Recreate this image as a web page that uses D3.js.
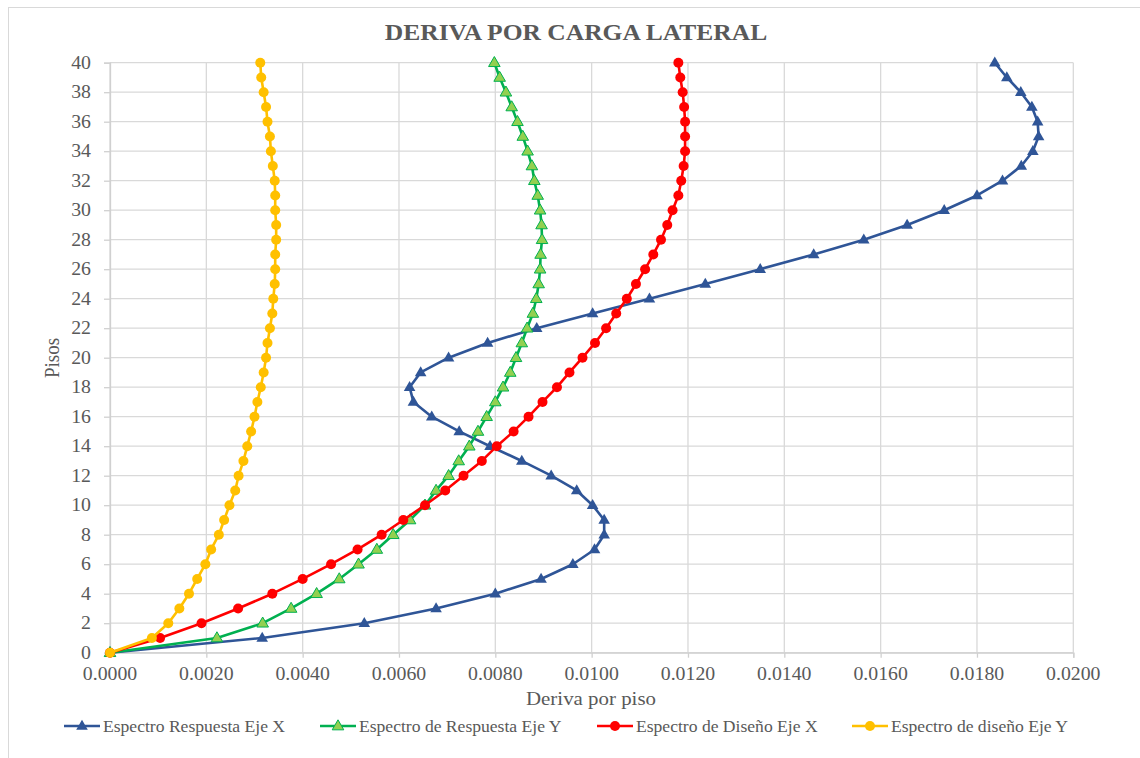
<!DOCTYPE html>
<html>
<head>
<meta charset="utf-8">
<script src="https://cdn.jsdelivr.net/npm/d3@7"></script>
<style>
  html, body { margin: 0; padding: 0; background: #ffffff; }
  svg { display: block; }
  text { font-family: "Liberation Serif", "Times New Roman", serif; fill: #595959; }
</style>
</head>
<body>
<svg id="chart" width="1140" height="758"></svg>
<script>
// Floors (pisos) 0..40
const floors = d3.range(0, 41);

// Inter-storey drift per floor for each analysis
const respuestaX = [0, 0.00316, 0.00528, 0.00677, 0.00800, 0.00895, 0.00961, 0.01006, 0.01026, 0.01026,
  0.01002, 0.00969, 0.00916, 0.00855, 0.00789, 0.00725, 0.00668, 0.00630, 0.00622, 0.00645,
  0.00703, 0.00784, 0.00886, 0.01002, 0.01120, 0.01236, 0.01350, 0.01461, 0.01565, 0.01655,
  0.01732, 0.01800, 0.01853, 0.01892, 0.01916, 0.01928, 0.01926, 0.01914, 0.01891, 0.01862, 0.01837];

const respuestaY = [0, 0.00222, 0.00317, 0.00376, 0.00429, 0.00476, 0.00516, 0.00554, 0.00588, 0.00623,
  0.00654, 0.00677, 0.00703, 0.00724, 0.00746, 0.00764, 0.00782, 0.00800, 0.00816, 0.00831,
  0.00843, 0.00855, 0.00866, 0.00878, 0.00885, 0.00890, 0.00893, 0.00894, 0.00897, 0.00896,
  0.00893, 0.00888, 0.00881, 0.00876, 0.00867, 0.00857, 0.00846, 0.00834, 0.00822, 0.00809, 0.00798];

const disenoX = [0, 0.00104, 0.00190, 0.00266, 0.00337, 0.00400, 0.00459, 0.00514, 0.00564, 0.00609,
  0.00654, 0.00696, 0.00734, 0.00772, 0.00803, 0.00838, 0.00869, 0.00898, 0.00928, 0.00954,
  0.00981, 0.01007, 0.01030, 0.01051, 0.01073, 0.01092, 0.01111, 0.01128, 0.01144, 0.01157,
  0.01168, 0.01180, 0.01186, 0.01191, 0.01194, 0.01194, 0.01194, 0.01192, 0.01189, 0.01184, 0.01180];

const disenoY = [0, 0.00087, 0.00121, 0.00144, 0.00164, 0.00181, 0.00198, 0.00210, 0.00226, 0.00237,
  0.00248, 0.00260, 0.00267, 0.00277, 0.00285, 0.00293, 0.00300, 0.00306, 0.00313, 0.00319,
  0.00324, 0.00327, 0.00332, 0.00337, 0.00339, 0.00342, 0.00343, 0.00343, 0.00345, 0.00345,
  0.00343, 0.00343, 0.00342, 0.00338, 0.00334, 0.00332, 0.00327, 0.00324, 0.00319, 0.00314, 0.00312];

const seriesNames = ["Espectro Respuesta Eje X", "Espectro de Respuesta Eje Y",
  "Espectro de Diseño Eje X", "Espectro de diseño Eje Y"];

const xTicks = d3.range(0, 11).map(i => i * 0.002);
const yTicks = d3.range(0, 21).map(i => i * 2);

const title = "DERIVA POR CARGA LATERAL";
const xTitle = "Deriva por piso";
const yTitle = "Pisos";

// ---- styling of each series ----
const styles = [
  { color: "#2f5597", marker: "tri", fill: "#2f5597", stroke: "none" },
  { color: "#00b050", marker: "tri", fill: "#92d050", stroke: "#00b050" },
  { color: "#ff0000", marker: "circ", fill: "#ff0000", stroke: "none" },
  { color: "#ffc000", marker: "circ", fill: "#ffc000", stroke: "none" }
];
const allSeries = [respuestaX, respuestaY, disenoX, disenoY];

const svg = d3.select("#chart");
const SX = 1.1; // horizontal text stretch

// chart frame
svg.append("rect").attr("x", 8.5).attr("y", 7.5).attr("width", 1140).attr("height", 760)
  .attr("fill", "#fff").attr("stroke", "#d9d9d9").attr("stroke-width", 1);

const x = d3.scaleLinear().domain([0, 0.02]).range([110, 1073.3]);
const y = d3.scaleLinear().domain([0, 40]).range([652.7, 62.7]);

function stretchedText(g, tx, ty, str, size, anchor, weight) {
  return g.append("text")
    .attr("transform", `translate(${tx},${ty}) scale(${SX},1)`)
    .attr("text-anchor", anchor)
    .style("font-size", size + "px")
    .style("font-weight", weight || "normal")
    .text(str);
}

// gridlines
const grid = svg.append("g");
grid.selectAll("line.h").data(yTicks).join("line")
  .attr("x1", x(0)).attr("x2", x(0.02))
  .attr("y1", d => y(d)).attr("y2", d => y(d))
  .attr("stroke", "#d9d9d9").attr("stroke-width", 1.3);
grid.selectAll("line.v").data(xTicks).join("line")
  .attr("x1", d => x(d)).attr("x2", d => x(d))
  .attr("y1", y(0)).attr("y2", y(40))
  .attr("stroke", "#d9d9d9").attr("stroke-width", 1.3);

// axes (tick marks only; labels drawn as stretched text)
const xAxis = svg.append("g").attr("transform", `translate(0,${y(0)})`)
  .call(d3.axisBottom(x).tickValues(xTicks).tickSize(5).tickFormat(""));
xAxis.selectAll("path, line").attr("stroke", "#d0d0d0").attr("stroke-width", 1.3);
const yAxis = svg.append("g").attr("transform", `translate(${x(0)},0)`)
  .call(d3.axisLeft(y).tickValues(yTicks).tickSize(6).tickFormat(""));
yAxis.selectAll("path, line").attr("stroke", "#d0d0d0").attr("stroke-width", 1.3);

const labels = svg.append("g");
const fmt = d3.format(".4f");
xTicks.forEach(t => stretchedText(labels, x(t), 680, fmt(t), 18, "middle"));
yTicks.forEach(t => stretchedText(labels, 91, y(t) + 6, String(t), 18, "end"));

// titles
stretchedText(svg, 576, 39.5, title, 23.2, "middle", "bold");
stretchedText(svg, 591, 705, xTitle, 19, "middle");
svg.append("text")
  .attr("transform", `translate(59,358) rotate(-90) scale(1,${SX})`)
  .attr("text-anchor", "middle")
  .style("font-size", "19px")
  .text(yTitle);

// series
const line = d3.line().x(d => x(d[0])).y(d => y(d[1]));
const tri = d3.symbol().type(d3.symbolTriangle).size(58);

function drawMarker(g, cx, cy, st) {
  if (st.marker === "tri") {
    g.append("path").attr("d", tri())
      .attr("transform", `translate(${cx},${cy + 0.5})`)
      .attr("fill", st.fill).attr("stroke", st.stroke).attr("stroke-width", 1);
  } else {
    g.append("circle").attr("cx", cx).attr("cy", cy).attr("r", 5)
      .attr("fill", st.fill);
  }
}

allSeries.forEach((vals, i) => {
  const st = styles[i];
  const pts = floors.map((f, k) => [vals[k], f]);
  const g = svg.append("g");
  g.append("path").datum(pts).attr("d", line)
    .attr("fill", "none").attr("stroke", st.color).attr("stroke-width", 2.6)
    .attr("stroke-linejoin", "round");
  pts.forEach(p => drawMarker(g, x(p[0]), y(p[1]), st));
});

// legend
const legendX = [64, 320, 597, 852];
const legend = svg.append("g");
seriesNames.forEach((name, i) => {
  const st = styles[i];
  const lx = legendX[i], ly = 726;
  legend.append("line").attr("x1", lx).attr("x2", lx + 36).attr("y1", ly).attr("y2", ly)
    .attr("stroke", st.color).attr("stroke-width", 2.6);
  drawMarker(legend, lx + 18, ly, st);
  stretchedText(legend, lx + 39, 732, name, 16, "start");
});
</script>
</body>
</html>
